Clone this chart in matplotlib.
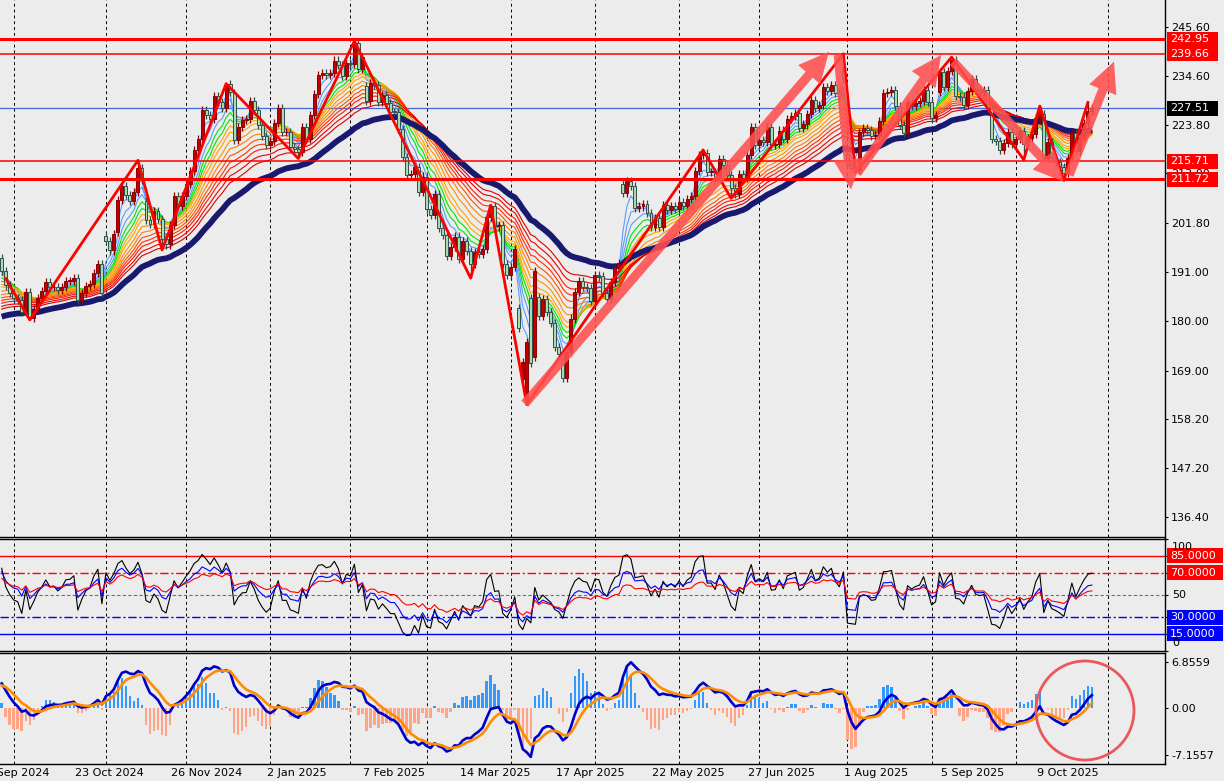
"""
Daily candlestick chart with EMA ribbon, zigzag, RSI and MACD panels.
"""

import matplotlib
matplotlib.use('Agg')
import matplotlib.pyplot as plt
import matplotlib.patches as mpatches
import matplotlib.transforms as mtransforms
import numpy as np

plt.rcParams['font.family'] = 'DejaVu Sans'
plt.rcParams['font.size'] = 8

W, H = 1224, 781
BG = '#ECECEC'
RIGHT_PX = 1165

# daily closes, bar 0 = 26 Sep 2024 ... bar 272 = 28 Oct 2025
closes = [
    191.16, 187.97, 186.33, 185.13, 184.76, 181.96, 186.51, 180.80, 182.72, 185.17, 186.65, 188.82,
    187.54, 187.69, 186.89, 187.53, 188.99, 189.07, 189.70, 184.71, 186.38, 187.83, 188.39, 190.83,
    192.73, 186.40, 197.93, 195.78, 199.50, 207.09, 210.05, 208.18, 206.84, 208.91, 214.10, 211.48,
    202.61, 201.70, 204.61, 202.88, 198.38, 197.12, 201.45, 207.86, 205.74, 207.89, 210.71, 213.44,
    218.16, 220.55, 227.03, 226.09, 225.04, 230.26, 228.97, 227.46, 232.93, 231.15, 220.52, 223.29,
    224.92, 225.06, 229.05, 227.05, 223.75, 221.30, 219.39, 220.22, 224.19, 227.61, 222.11, 222.13,
    218.94, 218.46, 217.76, 223.35, 220.66, 225.94, 230.71, 235.01, 235.42, 234.85, 235.42, 238.15,
    237.07, 234.64, 237.68, 237.42, 242.06, 236.17, 238.83, 229.15, 233.14, 232.76, 228.93, 230.37,
    228.68, 226.65, 226.63, 222.88, 216.58, 212.71, 212.80, 214.35, 208.74, 212.28, 205.02, 203.80,
    208.36, 200.70, 199.25, 194.54, 196.59, 198.89, 193.89, 197.95, 195.74, 192.82, 195.54, 194.95,
    196.21, 203.26, 205.71, 201.13, 201.36, 192.72, 190.26, 192.17, 196.01, 178.41, 171.00, 175.26,
    170.66, 191.10, 181.22, 184.87, 182.12, 179.59, 174.33, 172.61, 167.32, 173.18, 180.60, 186.54,
    188.99, 187.70, 187.39, 184.42, 190.20, 189.98, 186.35, 185.01, 188.71, 192.08, 193.06, 208.64,
    211.37, 210.25, 205.17, 205.59, 206.16, 204.07, 201.12, 203.10, 200.99, 206.02, 204.72, 205.70,
    205.01, 206.65, 205.71, 207.23, 207.91, 213.57, 216.98, 217.61, 213.20, 213.24, 212.10, 216.10,
    214.82, 212.52, 209.69, 208.47, 212.77, 211.99, 217.12, 223.30, 219.39, 220.46, 219.92, 223.41,
    219.36, 219.56, 222.54, 220.70, 225.02, 225.69, 226.35, 223.19, 223.88, 226.13, 229.30, 227.47,
    228.29, 232.23, 231.44, 232.79, 231.01, 230.19, 234.11, 214.75, 214.20, 213.75, 222.31, 223.13,
    222.69, 221.30, 221.47, 224.56, 230.98, 231.03, 231.49, 228.01, 223.81, 221.95, 228.84, 227.94,
    228.71, 229.12, 231.60, 229.00, 225.34, 225.99, 235.68, 232.33, 235.84, 238.24, 230.33, 229.95,
    228.15, 231.43, 234.05, 231.62, 231.23, 231.48, 227.63, 220.71, 220.21, 218.15, 219.78, 222.17,
    219.57, 220.63, 222.41, 219.51, 220.90, 221.78, 225.22, 227.74, 216.37, 220.07, 216.39, 215.57,
    214.47, 213.04, 216.48, 222.03, 217.95, 221.09, 224.21, 226.97, 227.51,
]
first_open = 194.0
# bars that opened away from the previous close
gap_open_bars = [26, 29, 36, 58, 91, 129, 130, 131, 132, 133, 134, 155, 210, 211, 234, 260]
gap_open_prices = [199.0, 200.0, 206.8, 230.8, 232.5, 183.0, 167.1, 162.0, 185.2, 172.1, 185.4,
                   210.7, 235.8, 217.2, 231.2, 226.2]

# zigzag pivots
zz_bars = [1, 7, 34, 40, 56, 74, 88, 117, 122, 131, 175, 182, 210, 213, 237, 255, 259, 265, 271]
zz_prices = [189.5, 180.3, 215.9, 195.9, 233.0, 216.3, 242.5, 189.6, 205.9, 161.4, 218.2, 207.4,
             239.66, 213.2, 238.9, 216.0, 228.0, 211.4, 228.8]

# hand-drawn arrows (tail -> tip)
arrow_tail_bar = [130.5, 208.7, 213.4, 237.4, 266.3]
arrow_tail_price = [161.6, 239.4, 213.0, 237.9, 212.6]
arrow_tip_bar = [206.4, 211.9, 234.4, 265.0, 277.5]
arrow_tip_price = [240.1, 209.4, 239.4, 211.1, 237.9]

# horizontal levels
red_levels = [242.95, 239.66, 215.71, 211.72]
red_widths = [2.2, 1.1, 1.1, 2.2]
last_price = 227.51

# EMA ribbon: periods, values at the first bar, colours
ribbon_periods = [3, 5, 7, 9, 11, 13, 15, 18, 21, 24, 27, 30, 34, 38]
ribbon_seeds = [191.5, 191.0, 190.3, 189.6, 188.9, 188.2, 187.6, 186.7, 185.9, 185.2, 184.6,
                184.0, 183.3, 182.7]
ribbon_colors = ['#5B9BFF', '#5B9BFF', '#5B9BFF', '#00E600', '#00E600', '#FFA500', '#FFA500',
                 '#FF9000', '#FF8000', '#FF5000', '#FF3000', '#FF1A00', '#F00000', '#E00000']
slow_period, slow_seed = 50, 181.0

# RSI lines: periods, value at first bar, colours
rsi_periods = [6, 12, 24]
rsi_seeds = [74.0, 71.0, 65.0]
rsi_colors = ['black', '#0000FF', '#FF0000']

# MACD: fast, slow, signal periods and their values at the first bar
macd_periods = (6, 13, 5)
macd_seeds = (191.6, 187.9, 3.4)
hist_scale = 2.6

# axis labels
main_ticks = [245.60, 234.60, 223.80, 213.00, 201.80, 191.00, 180.00, 169.00, 158.20, 147.20, 136.40]
month_bars = [3, 26, 46, 67, 87, 106, 127, 148, 169, 189, 211, 232, 253, 276]
date_bars = [-5, 19, 43, 67, 91, 115, 139, 163, 187, 211, 235, 259]
date_labels = ['19 Sep 2024', '23 Oct 2024', '26 Nov 2024', '2 Jan 2025', '7 Feb 2025',
               '14 Mar 2025', '17 Apr 2025', '22 May 2025', '27 Jun 2025', '1 Aug 2025',
               '5 Sep 2025', '9 Oct 2025']


def ema(values, period, seed):
    k = 2.0 / (period + 1)
    out = np.empty(len(values))
    out[0] = seed
    for i in range(1, len(values)):
        out[i] = out[i - 1] + k * (values[i] - out[i - 1])
    return out


def rsi(values, period, seed, move=2.2):
    ag = move * seed / 100.0
    al = move * (1 - seed / 100.0)
    out = [seed]
    for i in range(1, len(values)):
        d = values[i] - values[i - 1]
        ag = (ag * (period - 1) + max(d, 0)) / period
        al = (al * (period - 1) + max(-d, 0)) / period
        out.append(100.0 * ag / (ag + al))
    return np.array(out)


closes = np.array(closes)
n = len(closes)
idx = np.arange(n)

opens = np.concatenate([[first_open], closes[:-1]])
for b, p in zip(gap_open_bars, gap_open_prices):
    opens[b] = p
highs = np.maximum(opens, closes) + 0.9
lows = np.minimum(opens, closes) - 0.9
for b, p in zip(zz_bars, zz_prices):
    if p > max(opens[b], closes[b]):
        highs[b] = p
    elif p < min(opens[b], closes[b]):
        lows[b] = p

# ---- figure layout (pixel based) ----
fig = plt.figure(figsize=(W / 100, H / 100), dpi=100, facecolor=BG)


def add_panel(top, bottom):
    ax = fig.add_axes([0, 1 - bottom / H, RIGHT_PX / W, (bottom - top) / H], facecolor=BG)
    ax.set_xlim(-0.424, 290.24)
    ax.set_xticks([])
    ax.spines['left'].set_visible(False)
    for s in ['top', 'bottom', 'right']:
        ax.spines[s].set_color('black')
        ax.spines[s].set_linewidth(1.0)
    ax.yaxis.tick_right()
    ax.tick_params(axis='y', direction='out', length=2.5, pad=2, labelsize=8, width=0.8)
    for b in month_bars:
        ax.axvline(b, color='black', lw=0.7, ls=(0, (3, 3)), zorder=1)
    return ax


ax = add_panel(0, 536.5)
ax.spines['top'].set_visible(False)
ax_rsi = add_panel(538.5, 651)
ax_macd = add_panel(653, 763.5)

# ---- main panel ----
ax.set_ylim(131.98, 251.65)
ax.set_yticks(main_ticks)
ax.set_yticklabels(['%.2f' % v for v in main_ticks])

for p, s, c in zip(ribbon_periods, ribbon_seeds, ribbon_colors):
    ax.plot(idx, ema(closes, p, s), color=c, lw=0.8, zorder=2)
ax.plot(idx, ema(closes, slow_period, slow_seed), color='#191970', lw=4.2, zorder=2.5,
        solid_capstyle='butt')

bull = closes >= opens
body_lo = np.minimum(opens, closes)
body_h = np.maximum(np.abs(closes - opens), 0.2)
edge = np.where(bull, '#8B0000', '#2F4F4F')
face = np.where(bull, '#C00000', '#A8DCA8')
ax.vlines(idx, lows, highs, colors=edge, lw=0.9, zorder=3)
ax.bar(idx, body_h, bottom=body_lo, width=0.74, color=face, edgecolor=edge, linewidth=0.7,
       zorder=3.2)

ax.plot(zz_bars, zz_prices, color='#FF0000', lw=2.0, zorder=4)

for v, w in zip(red_levels, red_widths):
    ax.axhline(v, color='#FF0000', lw=w, zorder=3.5)
ax.axhline(last_price, color='#4169E1', lw=0.9, zorder=1.5)

for tb, tp, hb, hp in zip(arrow_tail_bar, arrow_tail_price, arrow_tip_bar, arrow_tip_price):
    ax.annotate('', xy=(hb, hp), xytext=(tb, tp), annotation_clip=False,
                arrowprops=dict(arrowstyle='simple,head_length=1.45,head_width=1.4,tail_width=0.44',
                                mutation_scale=15, facecolor='#FF4F4F', edgecolor='none',
                                alpha=0.88, shrinkA=0, shrinkB=0), zorder=5)

# ---- RSI panel ----
ax_rsi.set_ylim(-0.26, 100.7)
ax_rsi.set_yticks([100, 85, 70, 50, 30, 15, 0])
ax_rsi.set_yticklabels([])
for p, s, c in zip(rsi_periods, rsi_seeds, rsi_colors):
    ax_rsi.plot(idx, rsi(closes, p, s), color=c, lw=0.8, zorder=3)
ax_rsi.axhline(85, color='#FF0000', lw=1.0)
ax_rsi.axhline(70, color='#FF0000', lw=1.0, ls=(0, (6, 2, 1.5, 2)))
ax_rsi.axhline(50, color='#707070', lw=0.8, ls=(0, (3, 2)))
ax_rsi.axhline(30, color='#0000FF', lw=1.0, ls=(0, (6, 2, 1.5, 2)))
ax_rsi.axhline(15, color='#0000FF', lw=1.0)

# ---- MACD panel ----
ema_fast = ema(closes, macd_periods[0], macd_seeds[0])
ema_slow = ema(closes, macd_periods[1], macd_seeds[1])
macd = ema_fast - ema_slow
signal = ema(macd, macd_periods[2], macd_seeds[2])
hist = hist_scale * (macd - signal)
ax_macd.set_ylim(-8.361, 8.287)
ax_macd.set_yticks([6.8559, 0.0, -7.1557])
ax_macd.set_yticklabels(['6.8559', '0.00', '-7.1557'])
ax_macd.bar(idx, hist, width=0.62, color=np.where(hist >= 0, '#3399FF', '#FFA585'), zorder=2)
ax_macd.plot(idx, macd, color='#0000CD', lw=1.9, zorder=3)
ax_macd.plot(idx, signal, color='#FF8C00', lw=1.9, zorder=3.5)

# date labels under the MACD panel
blend = mtransforms.blended_transform_factory(ax_macd.transData, ax_macd.transAxes)
for b, lab in zip(date_bars, date_labels):
    ax_macd.text(b - 0.75, -0.086, lab, transform=blend, ha='left', va='center', fontsize=8,
                 clip_on=False)


# ---- boxed labels on the price scale ----
def side_label(axis, value, text, face, width=51):
    y = axis.transData.transform((0, value))[1]
    h = 15
    fig.add_artist(mpatches.Rectangle(((RIGHT_PX + 2) / W, (y - h / 2) / H), width / W, h / H,
                                      transform=fig.transFigure, facecolor=face,
                                      edgecolor='none'))
    fig.text((RIGHT_PX + 5) / W, y / H, text, color='white', va='center', ha='left', fontsize=8)


def plain_label(axis, value, text):
    y = axis.transData.transform((0, value))[1]
    fig.text((RIGHT_PX + 7) / W, y / H, text, color='black', va='center', ha='left', fontsize=8)


for v in red_levels:
    side_label(ax, v, '%.2f' % v, '#FF0000')
side_label(ax, last_price, '%.2f' % last_price, 'black')

plain_label(ax_rsi, 93.5, '100')
plain_label(ax_rsi, 50, '50')
plain_label(ax_rsi, 6.5, '0')
side_label(ax_rsi, 85, '85.0000', '#FF0000', 56)
side_label(ax_rsi, 70, '70.0000', '#FF0000', 56)
side_label(ax_rsi, 30, '30.0000', '#0000FF', 56)
side_label(ax_rsi, 15, '15.0000', '#0000FF', 56)

# red circle over the latest MACD move
fig.add_artist(mpatches.Ellipse((1085 / W, 1 - 710.5 / H), 98 / W, 99 / H,
                                transform=fig.transFigure, fill=False,
                                edgecolor='#E9585C', lw=2.0))

fig.savefig('out.png', dpi=100, facecolor=BG)
